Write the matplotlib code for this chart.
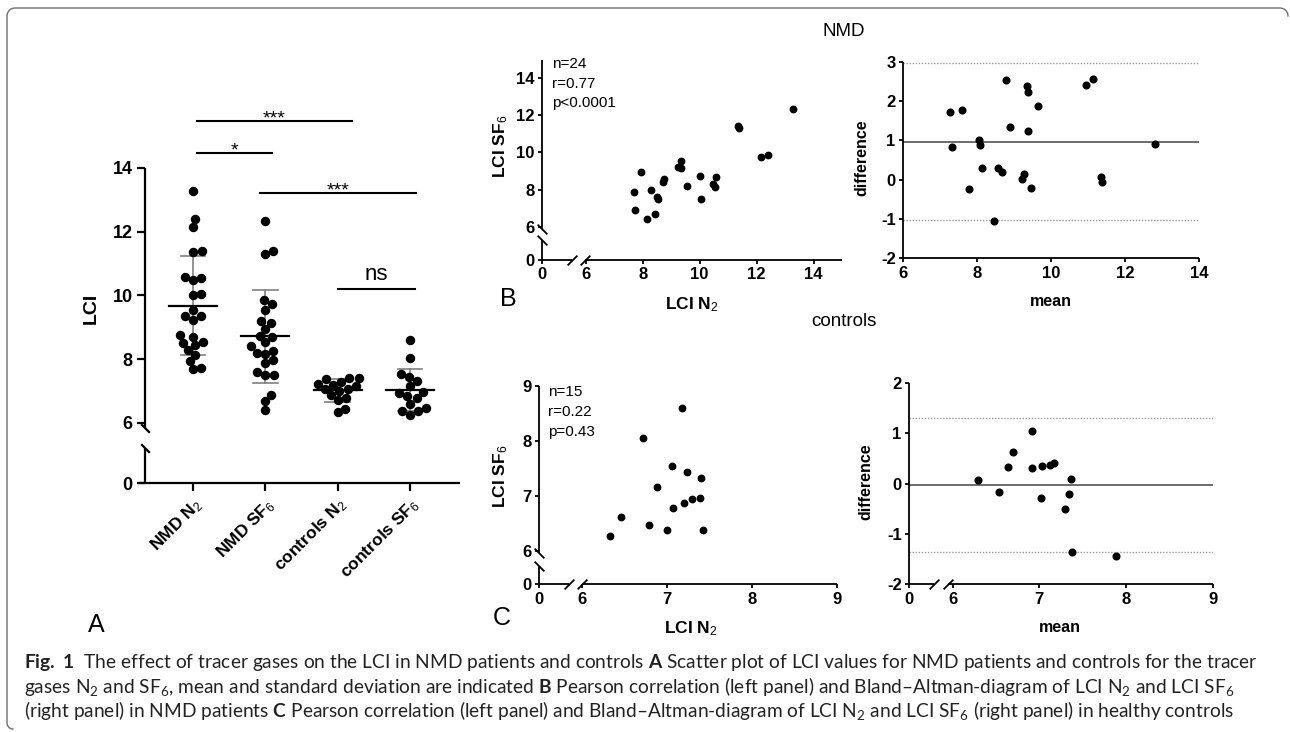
import numpy as np
import matplotlib
matplotlib.use("Agg")
import matplotlib.pyplot as plt
from matplotlib.lines import Line2D

W, H = 1290, 732

# ---- values ----
# NMD patients, paired LCI (n=24)
nmd_n2 = [7.68, 7.74, 7.93, 8.14, 8.29, 8.44, 8.50, 8.55, 8.70, 8.76, 9.23, 9.35,
          9.35, 9.56, 10.00, 10.05, 10.48, 10.54, 10.57, 11.35, 11.38, 12.15, 12.41, 13.27]
nmd_sf6 = [7.87, 6.88, 8.95, 6.40, 7.98, 6.68, 7.60, 7.51, 8.40, 8.54, 9.19, 9.15,
           9.55, 8.20, 8.74, 7.51, 8.27, 8.16, 8.70, 11.41, 11.30, 9.73, 9.86, 12.34]
# controls, paired LCI (n=15)
ctl_n2 = [6.33, 6.45, 6.71, 6.79, 6.88, 7.00, 7.05, 7.07, 7.17, 7.20, 7.23, 7.29, 7.38, 7.40, 7.42]
ctl_sf6 = [6.26, 6.61, 8.05, 6.47, 7.16, 6.38, 7.55, 6.77, 8.60, 6.86, 7.44, 6.94, 6.96, 7.32, 6.38]

# Bland-Altman points
nmd_ba_mean = [7.26, 7.32, 7.58, 7.78, 8.04, 8.06, 8.14, 8.44, 8.57, 8.66, 8.78, 8.88,
               9.22, 9.25, 9.35, 9.36, 9.38, 9.44, 9.63, 10.95, 11.14, 11.34, 11.37, 12.81]
nmd_ba_diff = [1.73, 0.84, 1.76, -0.24, 1.01, 0.89, 0.29, -1.06, 0.30, 0.19, 2.53, 1.34,
               0.02, 0.14, 2.38, 2.22, 1.24, -0.22, 1.88, 2.42, 2.55, 0.08, -0.07, 0.91]
nmd_bias = 0.96
nmd_loa = [2.96, -1.02]

ctl_ba_mean = [6.29, 6.53, 6.64, 6.70, 6.91, 6.92, 7.02, 7.03, 7.12, 7.17, 7.30, 7.34, 7.37, 7.38, 7.89]
ctl_ba_diff = [0.07, -0.16, 0.32, 0.62, 1.04, 0.30, -0.28, 0.34, 0.36, 0.41, -0.50, -0.21, 0.09, -1.35, -1.43]
ctl_bias = -0.03
ctl_loa = [1.29, -1.35]

# panel A summary
group_labels = ["NMD N$_2$", "NMD SF$_6$", "controls N$_2$", "controls SF$_6$"]
group_mean = [9.68, 8.72, 7.02, 7.04]
group_sd_hi = [11.24, 10.18, 7.37, 7.69]
group_sd_lo = [8.12, 7.25, 6.67, 6.38]

sig_x0 = [0.05, 0.05, 0.93, 2.0]
sig_x1 = [2.2, 1.09, 3.08, 3.07]
sig_y = [15.48, 14.47, 13.21, 10.19]
sig_labels = ["***", "*", "***", "ns"]

nmd_stats = ["n=24", "r=0.77", "p<0.0001"]
ctl_stats = ["n=15", "r=0.22", "p=0.43"]

plt.rcParams['font.family'] = ['Liberation Sans', 'DejaVu Sans']
plt.rcParams['mathtext.fontset'] = 'custom'
plt.rcParams['mathtext.rm'] = 'Liberation Sans'
plt.rcParams['mathtext.it'] = 'Liberation Sans:italic'
plt.rcParams['mathtext.bf'] = 'Lato:bold'
plt.rcParams['mathtext.sf'] = 'Lato'

fig = plt.figure(figsize=(W / 100, H / 100), dpi=100)


def px(x, y):
    return x / W, 1 - y / H


def add_ax(l, t, r, b):
    return fig.add_axes([l / W, 1 - b / H, (r - l) / W, (b - t) / H])


def broken(k, b=6.0):
    # squeeze everything below b by factor k (axis break)
    def fwd(v):
        v = np.asarray(v, float)
        return np.where(v >= b, v - b, (v - b) * k)

    def inv(t):
        t = np.asarray(t, float)
        return np.where(t >= 0, t + b, t / k + b)
    return fwd, inv


def frame(ax, xsegs, ysegs, xmarks=(), ymarks=(), lw=1.3, ms=7):
    for s in ax.spines.values():
        s.set_visible(False)
    ty = ax.get_yaxis_transform()
    tx = ax.get_xaxis_transform()
    for a, b in ysegs:
        ax.plot([0, 0], [a, b], transform=ty, color='k', lw=lw, clip_on=False,
                solid_capstyle='butt')
    for a, b in xsegs:
        ax.plot([a, b], [0, 0], transform=tx, color='k', lw=lw, clip_on=False,
                solid_capstyle='butt')
    for y in ymarks:
        ax.plot([0], [y], transform=ty, marker=[(-1, 1), (1, -1)], ms=ms, mew=lw,
                color='k', ls='none', clip_on=False)
    for x in xmarks:
        ax.plot([x], [0], transform=tx, marker=[(-1, -1), (1, 1)], ms=ms, mew=lw,
                color='k', ls='none', clip_on=False)


def swarm(vals, d, sx, sy):
    # horizontal offsets so that dots of diameter d (px) don't overlap
    y = np.asarray(vals, float) * sy
    xs = np.zeros(len(y))
    done = []
    for i in np.argsort(y):
        cands = [0.0]
        for j in done:
            dy = y[i] - y[j]
            if abs(dy) < d:
                dx = np.sqrt(d * d - dy * dy)
                cands += [xs[j] + dx, xs[j] - dx]
        cands.sort(key=abs)
        for c in cands:
            if all((c - xs[j]) ** 2 + (y[i] - y[j]) ** 2 >= d * d - 1e-6 for j in done):
                xs[i] = c
                break
        done.append(i)
    return xs / sx


def ticks(ax, xt, yt, size, L, lw):
    ax.set_xticks(xt, [str(t) for t in xt], fontsize=size, fontweight='bold')
    ax.set_yticks(yt, [str(t) for t in yt], fontsize=size, fontweight='bold')
    ax.tick_params(direction='out', length=L, width=lw, pad=2.5)


# ---------------- panel A ----------------
axA = add_ax(145, 168, 460, 483)
axA.set_yscale('function', functions=broken(0.314))
groups = [nmd_n2, nmd_sf6, ctl_n2, ctl_sf6]
for i, vals in enumerate(groups):
    offs = swarm(vals, 8.6, 72.3, 31.87)
    axA.plot(i + offs, vals, 'o', color='k', ms=5.8, zorder=3, clip_on=False)
    axA.plot([i, i], [group_sd_lo[i], group_sd_hi[i]], color='#808080', lw=1.2, zorder=2)
    for yv in (group_sd_lo[i], group_sd_hi[i]):
        axA.plot([i - 0.17, i + 0.17], [yv, yv], color='#808080', lw=1.2, zorder=2)
    axA.plot([i - 0.33, i + 0.33], [group_mean[i], group_mean[i]], color='k', lw=1.6, zorder=4)

for x0, x1, yv, lab in zip(sig_x0, sig_x1, sig_y, sig_labels):
    axA.plot([x0, x1], [yv, yv], color='k', lw=1.5, clip_on=False)
    if lab == 'ns':
        axA.annotate(lab, xy=((x0 + x1) / 2, yv), xytext=(0, 7), textcoords='offset points',
                     ha='center', va='baseline', fontsize=16, annotation_clip=False)
    else:
        axA.annotate(lab, xy=((x0 + x1) / 2, yv), xytext=(0, -1.6), textcoords='offset points',
                     ha='center', va='baseline', fontsize=14, annotation_clip=False)

axA.set_xlim(-0.664, 3.692)
axA.set_ylim(0, 14)
axA.set_yticks([0, 6, 8, 10, 12, 14], ['0', '6', '8', '10', '12', '14'],
               fontsize=13, fontweight='bold')
axA.set_xticks(range(4), group_labels, rotation=45, ha='right', va='top',
               rotation_mode='anchor', fontsize=12.5, fontweight='bold')
axA.tick_params(direction='out', length=6, width=1.6, pad=3)
frame(axA, xsegs=[(-0.76, 3.692)], ysegs=[(0, 3.5), (5.5, 14)],
      ymarks=[3.5, 5.5], lw=1.6, ms=6.2)
fig.text(*px(91, 308), 'LCI', rotation=90, ha='center', va='center',
         fontsize=14, fontweight='bold')

# ---------------- panel B: NMD ----------------
axB = add_ax(542.3, 59.5, 842, 259.7)
axB.set_xscale('function', functions=broken(0.2538))
axB.set_yscale('function', functions=broken(0.2965))
axB.plot(nmd_n2, nmd_sf6, 'o', color='k', ms=4.6, clip_on=False)
axB.set_xlim(0, 15)
axB.set_ylim(0, 15)
ticks(axB, [0, 6, 8, 10, 12, 14], [0, 6, 8, 10, 12, 14], 12, 3, 1.3)
frame(axB, xsegs=[(0, 4.1), (5.9, 15)], ysegs=[(0, 3.6), (5.6, 15)],
      xmarks=[4.1, 5.9], ymarks=[3.6, 5.6], lw=1.3, ms=7)

axBA = add_ax(903.3, 61.7, 1199.3, 258.3)
axBA.axhline(nmd_bias, color='#444444', lw=1.1)
for v in nmd_loa:
    axBA.axhline(v, color='#999999', lw=1.0, ls=(0, (1, 1.2)))
axBA.plot(nmd_ba_mean, nmd_ba_diff, 'o', color='k', ms=4.8, clip_on=False, zorder=3)
axBA.set_xlim(6, 14)
axBA.set_ylim(-2, 3)
ticks(axBA, [6, 8, 10, 12, 14], [-2, -1, 0, 1, 2, 3], 12, 3, 1.3)
frame(axBA, xsegs=[(6, 14)], ysegs=[(-2, 3)], lw=1.3)

# ---------------- panel C: controls ----------------
axC = add_ax(539.3, 386, 837.3, 584)
axC.set_xscale('function', functions=broken(0.0843))
axC.set_yscale('function', functions=broken(0.1011))
axC.plot(ctl_n2, ctl_sf6, 'o', color='k', ms=4.6, clip_on=False)
axC.set_xlim(0, 9)
axC.set_ylim(0, 9)
ticks(axC, [0, 6, 7, 8, 9], [0, 6, 7, 8, 9], 12, 3, 1.3)
frame(axC, xsegs=[(0, 4.1), (5.9, 9)], ysegs=[(0, 3.2), (5.65, 9)],
      xmarks=[4.1, 5.9], ymarks=[3.2, 5.65], lw=1.3, ms=7)

axCBA = add_ax(909.3, 382.7, 1212.7, 584.3)
axCBA.set_xscale('function', functions=broken(0.0834))
axCBA.axhline(ctl_bias, color='#444444', lw=1.1)
for v in ctl_loa:
    axCBA.axhline(v, color='#999999', lw=1.0, ls=(0, (1, 1.2)))
axCBA.plot(ctl_ba_mean, ctl_ba_diff, 'o', color='k', ms=4.8, clip_on=False, zorder=3)
axCBA.set_xlim(0, 9)
axCBA.set_ylim(-2, 2)
ticks(axCBA, [0, 6, 7, 8, 9], [-2, -1, 0, 1, 2], 12, 3, 1.3)
frame(axCBA, xsegs=[(0, 3.4), (5.35, 9)], ysegs=[(-2, 2)], xmarks=[3.4, 5.35], lw=1.3, ms=7)

# stats text
for k, s in enumerate(nmd_stats):
    fig.text(*px(551.7, 68.3 + 19.2 * k), s, fontsize=11, va='baseline')
for k, s in enumerate(ctl_stats):
    fig.text(*px(548.3, 396 + 20 * k), s, fontsize=11, va='baseline')

# axis labels
for y in (146, 476):
    fig.text(*px(501, y), 'LCI SF$_6$', rotation=90, ha='center', va='center',
             fontsize=12.5, fontweight='bold')
fig.text(*px(692, 309), 'LCI N$_2$', ha='center', va='baseline', fontsize=12.5, fontweight='bold')
fig.text(*px(691, 633), 'LCI N$_2$', ha='center', va='baseline', fontsize=12.5, fontweight='bold')
fig.text(*px(862, 158), 'difference', rotation=90, ha='center', va='center',
         fontsize=11.5, fontweight='bold')
fig.text(*px(866, 482), 'difference', rotation=90, ha='center', va='center',
         fontsize=11.5, fontweight='bold')
fig.text(*px(1051, 306), 'mean', ha='center', va='baseline', fontsize=11.5, fontweight='bold')
fig.text(*px(1060, 632), 'mean', ha='center', va='baseline', fontsize=11.5, fontweight='bold')

# titles and panel letters
fig.text(*px(844, 31), 'NMD', ha='center', va='center', fontsize=13.5)
fig.text(*px(844, 322), 'controls', ha='center', va='center', fontsize=13.5)
fig.text(*px(88, 632), 'A', fontsize=18, va='baseline')
fig.text(*px(500, 306), 'B', fontsize=18, va='baseline')
fig.text(*px(493, 625), 'C', fontsize=18, va='baseline')

# caption
cap_lines = [
    r"$\mathbf{Fig.\ 1}$  The effect of tracer gases on the LCI in NMD patients and controls "
    r"$\mathbf{A}$ Scatter plot of LCI values for NMD patients and controls for the tracer",
    r"gases N$_{\mathsf{2}}$ and SF$_{\mathsf{6}}$, mean and standard deviation are indicated "
    r"$\mathbf{B}$ Pearson correlation (left panel) and Bland–Altman-diagram of LCI N$_{\mathsf{2}}$ "
    r"and LCI SF$_{\mathsf{6}}$",
    r"(right panel) in NMD patients $\mathbf{C}$ Pearson correlation (left panel) and "
    r"Bland–Altman-diagram of LCI N$_{\mathsf{2}}$ and LCI SF$_{\mathsf{6}}$ (right panel) in healthy controls",
]
cap_texts = []
for k, s in enumerate(cap_lines):
    cap_texts.append(fig.text(*px(23.5, 668 + 24.5 * k), s, fontsize=12, va='baseline',
                              family=['Lato', 'DejaVu Sans'], color='#222222'))
fig.canvas.draw()
r = fig.canvas.get_renderer()
wd = cap_texts[0].get_window_extent(r).width
for t in cap_texts:
    t.set_fontsize(12 * 1231 / wd)

# rounded frame (top and left edges)
pts = []
for a in np.linspace(np.pi / 2, np.pi, 8):
    pts.append((13 + 6 * np.cos(a), 723 + 6 * np.sin(a)))
for a in np.linspace(np.pi, 1.5 * np.pi, 10):
    pts.append((15 + 8 * np.cos(a), 16 + 8 * np.sin(a)))
for a in np.linspace(1.5 * np.pi, 2 * np.pi, 10):
    pts.append((1280 + 8 * np.cos(a), 16 + 8 * np.sin(a)))
fx = [p[0] / W for p in pts]
fy = [1 - p[1] / H for p in pts]
fig.add_artist(Line2D(fx, fy, transform=fig.transFigure, color='#6e6e6e', lw=1.0))

fig.savefig('out.png', dpi=100)
